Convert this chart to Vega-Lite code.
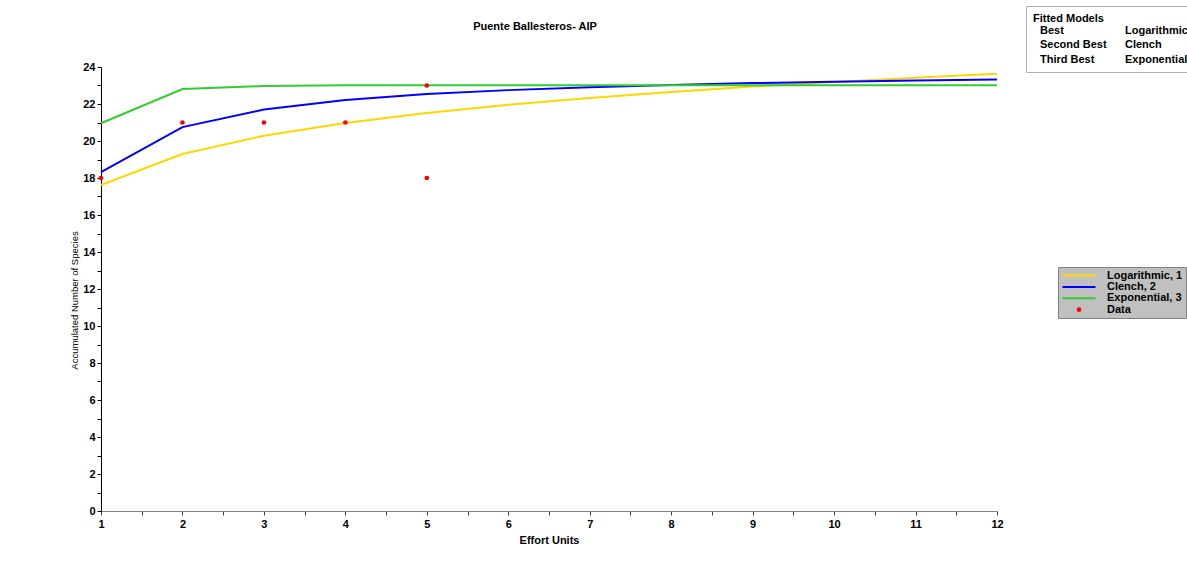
{
  "$schema": "https://vega.github.io/schema/vega-lite/v6.json",
  "width": 896,
  "height": 444,
  "autosize": {"type": "none"},
  "padding": {"left": 101, "top": 67, "right": 190, "bottom": 69},
  "background": "white",
  "title": {
    "text": "Puente Ballesteros- AIP",
    "anchor": "middle",
    "dx": -14,
    "dy": 36,
    "offset": 10,
    "font": "Liberation Sans",
    "fontSize": 11,
    "fontWeight": "bold",
    "color": "black"
  },
  "config": {
    "view": {"stroke": null},
    "legend": {"labelFont": "Liberation Sans", "titleFont": "Liberation Sans"}
  },
  "datasets": {
    "curves": [
      {"x": 1, "y": 17.62, "series": "Logarithmic, 1"},
      {"x": 2, "y": 19.30, "series": "Logarithmic, 1"},
      {"x": 3, "y": 20.28, "series": "Logarithmic, 1"},
      {"x": 4, "y": 20.97, "series": "Logarithmic, 1"},
      {"x": 5, "y": 21.51, "series": "Logarithmic, 1"},
      {"x": 6, "y": 21.96, "series": "Logarithmic, 1"},
      {"x": 7, "y": 22.33, "series": "Logarithmic, 1"},
      {"x": 8, "y": 22.65, "series": "Logarithmic, 1"},
      {"x": 9, "y": 22.94, "series": "Logarithmic, 1"},
      {"x": 10, "y": 23.19, "series": "Logarithmic, 1"},
      {"x": 11, "y": 23.42, "series": "Logarithmic, 1"},
      {"x": 12, "y": 23.63, "series": "Logarithmic, 1"},
      {"x": 1, "y": 18.32, "series": "Clench, 2"},
      {"x": 2, "y": 20.75, "series": "Clench, 2"},
      {"x": 3, "y": 21.70, "series": "Clench, 2"},
      {"x": 4, "y": 22.22, "series": "Clench, 2"},
      {"x": 5, "y": 22.54, "series": "Clench, 2"},
      {"x": 6, "y": 22.75, "series": "Clench, 2"},
      {"x": 7, "y": 22.91, "series": "Clench, 2"},
      {"x": 8, "y": 23.03, "series": "Clench, 2"},
      {"x": 9, "y": 23.13, "series": "Clench, 2"},
      {"x": 10, "y": 23.20, "series": "Clench, 2"},
      {"x": 11, "y": 23.27, "series": "Clench, 2"},
      {"x": 12, "y": 23.32, "series": "Clench, 2"},
      {"x": 1, "y": 20.96, "series": "Exponential, 3"},
      {"x": 2, "y": 22.81, "series": "Exponential, 3"},
      {"x": 3, "y": 22.97, "series": "Exponential, 3"},
      {"x": 4, "y": 23.01, "series": "Exponential, 3"},
      {"x": 5, "y": 23.02, "series": "Exponential, 3"},
      {"x": 6, "y": 23.02, "series": "Exponential, 3"},
      {"x": 7, "y": 23.02, "series": "Exponential, 3"},
      {"x": 8, "y": 23.02, "series": "Exponential, 3"},
      {"x": 9, "y": 23.02, "series": "Exponential, 3"},
      {"x": 10, "y": 23.02, "series": "Exponential, 3"},
      {"x": 11, "y": 23.02, "series": "Exponential, 3"},
      {"x": 12, "y": 23.02, "series": "Exponential, 3"}
    ],
    "obs": [
      {"x": 1, "y": 18, "series": "Data"},
      {"x": 2, "y": 21, "series": "Data"},
      {"x": 3, "y": 21, "series": "Data"},
      {"x": 4, "y": 21, "series": "Data"},
      {"x": 5, "y": 23, "series": "Data"},
      {"x": 5, "y": 18, "series": "Data"}
    ],
    "fitted": [
      {"entry": "Best"},
      {"entry": "Second Best"},
      {"entry": "Third Best"},
      {"entry": "Logarithmic"},
      {"entry": "Clench"},
      {"entry": "Exponential"}
    ]
  },
  "encoding": {
    "x": {
      "field": "x",
      "type": "quantitative",
      "scale": {"domain": [1, 12], "nice": false, "zero": false},
      "axis": {
        "values": [1, 1.5, 2, 2.5, 3, 3.5, 4, 4.5, 5, 5.5, 6, 6.5, 7, 7.5, 8, 8.5, 9, 9.5, 10, 10.5, 11, 11.5, 12],
        "labelExpr": "datum.value % 1 === 0 ? format(datum.value, 'd') : ''",
        "title": "Effort Units",
        "grid": false,
        "domainColor": "#808080",
        "tickColor": "#404040",
        "tickSize": 4,
        "labelPadding": 3,
        "labelFlush": false,
        "labelOverlap": false,
        "labelFont": "Liberation Sans",
        "labelFontSize": 11,
        "labelFontWeight": "bold",
        "labelColor": "black",
        "titleFont": "Liberation Sans",
        "titleFontSize": 11,
        "titleFontWeight": "bold",
        "titleColor": "black",
        "titlePadding": 5
      }
    },
    "y": {
      "field": "y",
      "type": "quantitative",
      "scale": {"domain": [0, 24], "nice": false, "zero": true},
      "axis": {
        "values": [0, 1, 2, 3, 4, 5, 6, 7, 8, 9, 10, 11, 12, 13, 14, 15, 16, 17, 18, 19, 20, 21, 22, 23, 24],
        "labelExpr": "datum.value % 2 === 0 ? datum.label : ''",
        "title": "Accumulated Number of Species",
        "titleY": 233,
        "grid": false,
        "domainColor": "black",
        "tickColor": "black",
        "tickSize": 4,
        "labelPadding": 2,
        "labelFlush": false,
        "labelOverlap": false,
        "labelFont": "Liberation Sans",
        "labelFontSize": 11,
        "labelFontWeight": "bold",
        "labelColor": "black",
        "titleFont": "Liberation Sans",
        "titleFontSize": 9.5,
        "titleFontWeight": "normal",
        "titleColor": "black",
        "titlePadding": 3
      }
    }
  },
  "layer": [
    {
      "data": {"name": "curves"},
      "mark": {"type": "line", "strokeWidth": 2},
      "encoding": {
        "color": {
          "field": "series",
          "type": "nominal",
          "scale": {
            "domain": ["Logarithmic, 1", "Clench, 2", "Exponential, 3", "Data"],
            "range": ["#ffd700", "#0000ff", "#33cc33", "#ff0000"]
          },
          "legend": {
            "title": null,
            "orient": "none",
            "legendX": 957,
            "legendY": 200,
            "fillColor": "#c0c0c0",
            "strokeColor": "#808080",
            "padding": 3,
            "symbolSize": 64,
            "symbolOffset": 12.5,
            "labelOffset": 22.5,
            "labelFontSize": 11,
            "labelFontWeight": "bold",
            "labelColor": "black",
            "rowPadding": -0.6,
            "encode": {
              "symbols": {
                "update": {
                  "shape": {"signal": "datum.value === 'Data' ? 'circle' : 'M-4.125,0H4.125'"},
                  "size": {"signal": "datum.value === 'Data' ? 22 : 64"},
                  "stroke": {"scale": "color", "field": "value"},
                  "fill": {"scale": "color", "field": "value"},
                  "strokeWidth": {"signal": "datum.value === 'Data' ? 0 : 2"},
                  "opacity": {"value": 1}
                }
              }
            }
          }
        }
      }
    },
    {
      "data": {"name": "obs"},
      "mark": {"type": "point", "filled": true, "size": 22, "opacity": 1},
      "encoding": {
        "color": {"field": "series", "type": "nominal"}
      }
    },
    {
      "data": {"name": "fitted"},
      "mark": {"type": "point", "opacity": 0},
      "encoding": {
        "x": {"value": 0},
        "y": {"value": 0},
        "shape": {
          "field": "entry",
          "type": "nominal",
          "scale": {
            "domain": ["Best", "Second Best", "Third Best", "Logarithmic", "Clench", "Exponential"],
            "range": ["circle", "circle", "circle", "circle", "circle", "circle"]
          },
          "legend": {
            "title": "Fitted Models",
            "orient": "none",
            "legendX": 925,
            "legendY": -61,
            "columns": 2,
            "columnPadding": 11,
            "gridAlign": "each",
            "strokeColor": "#b0b0b0",
            "padding": 7,
            "symbolSize": 0,
            "symbolOpacity": 0,
            "labelOffset": -4,
            "labelFontSize": 11,
            "labelFontWeight": "bold",
            "labelColor": "black",
            "titleFontSize": 11,
            "titleFontWeight": "bold",
            "titleColor": "black",
            "titlePadding": 1,
            "rowPadding": 2.5
          }
        }
      }
    }
  ]
}
